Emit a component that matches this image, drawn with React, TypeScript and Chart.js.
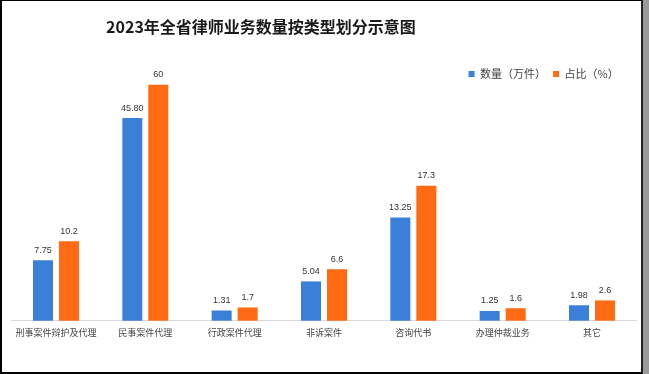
import React, { useEffect, useRef } from 'react';
import { Chart, registerables, LinearScale } from 'chart.js';

Chart.register(...registerables);

const titleText = '2023年全省律师业务数量按类型划分示意图';
const categories = ['刑事案件辩护及代理', '民事案件代理', '行政案件代理', '非诉案件', '咨询代书', '办理仲裁业务', '其它'];
const seriesNames = ['数量（万件）', '占比（%）'];
const quantity = [7.75, 45.8, 1.31, 5.04, 13.25, 1.25, 1.98];
const share = [10.2, 60, 1.7, 6.6, 17.3, 1.6, 2.6];

// the original chart uses a broken (compressed) value axis above ~17.5
const BREAK_AT = 17.5;
const COMPRESS = 0.3;
const Y_MAX = 58;

class BrokenLinearScale extends LinearScale {
  static id = 'brokenLinear';
  static defaults = LinearScale.defaults;
  tf(v: number) {
    return v <= BREAK_AT ? v : BREAK_AT + (v - BREAK_AT) * COMPRESS;
  }
  itf(t: number) {
    return t <= BREAK_AT ? t : BREAK_AT + (t - BREAK_AT) / COMPRESS;
  }
  getPixelForValue(value: any) {
    if (value === null || value === undefined || isNaN(value)) return NaN;
    const a = this.tf(this.min);
    const b = this.tf(this.max);
    return this.getPixelForDecimal((this.tf(value) - a) / (b - a));
  }
  getValueForPixel(pixel: number) {
    const a = this.tf(this.min);
    const b = this.tf(this.max);
    return this.itf(a + this.getDecimalForPixel(pixel) * (b - a));
  }
}
Chart.register(BrokenLinearScale as any);

const valueLabels = {
  id: 'valueLabels',
  afterDatasetsDraw(chart: any) {
    const ctx = chart.ctx;
    ctx.save();
    ctx.font = "9px 'Liberation Sans', sans-serif";
    ctx.fillStyle = '#333333';
    ctx.textAlign = 'center';
    ctx.textBaseline = 'middle';
    chart.data.datasets.forEach((ds: any, i: number) => {
      const meta = chart.getDatasetMeta(i);
      meta.data.forEach((bar: any, j: number) => {
        const v = ds.data[j] as number;
        const txt = i === 0 ? v.toFixed(2) : String(v);
        ctx.fillText(txt, bar.x, bar.y - 10);
      });
    });
    ctx.restore();
  },
};

export default function App() {
  const canvasRef = useRef<HTMLCanvasElement | null>(null);

  useEffect(() => {
    if (!canvasRef.current) return;
    Chart.defaults.font.family = "'Noto Sans CJK SC', 'Noto Sans', sans-serif";
    const chart = new Chart(canvasRef.current, {
      type: 'bar',
      data: {
        labels: categories,
        datasets: [
          {
            label: seriesNames[0],
            data: quantity,
            backgroundColor: '#3b80d8',
            categoryPercentage: 0.582,
            barPercentage: 0.77,
            clip: false as any,
          },
          {
            label: seriesNames[1],
            data: share,
            backgroundColor: '#ff6a12',
            categoryPercentage: 0.582,
            barPercentage: 0.77,
            clip: false as any,
          },
        ],
      },
      options: {
        animation: false,
        responsive: true,
        maintainAspectRatio: false,
        layout: { padding: { left: 9.3, right: 4.3, top: 60.5, bottom: 28.5 } },
        plugins: {
          legend: {
            position: 'top',
            align: 'end',
            labels: {
              boxWidth: 6,
              boxHeight: 6,
              padding: 7,
              color: '#444444',
              font: { size: 11 },
              generateLabels(chart: any) {
                const items = Chart.defaults.plugins.legend.labels.generateLabels(chart);
                if (items.length) items[items.length - 1].text += '\u3000\u2002';
                return items;
              },
            },
          },
          title: { display: false },
          tooltip: { enabled: false },
        },
        scales: {
          x: {
            grid: { display: false, drawTicks: false },
            border: { display: true, color: '#d9d9d9' },
            ticks: {
              padding: 6,
              color: '#444444',
              font: { size: 9 },
              maxRotation: 0,
              autoSkip: false,
            },
          },
          y: {
            type: 'brokenLinear' as any,
            display: false,
            min: 0,
            max: Y_MAX,
          },
        },
      },
      plugins: [valueLabels],
    });
    return () => chart.destroy();
  }, []);

  return (
    <div style={{ position: 'fixed', left: 0, top: 0, width: 649, height: 374, background: '#ffffff', overflow: 'hidden' }}>
      <div
        style={{
          position: 'absolute',
          left: 0,
          top: 0,
          width: 643,
          height: 374,
          boxSizing: 'border-box',
          borderLeft: '2px solid #000',
          borderTop: '1px solid #000',
          borderBottom: '2px solid #000',
          borderRight: '2px solid #222',
          background: '#ffffff',
        }}
      >
        <div style={{ position: 'relative', width: 639, height: 371 }}>
          <canvas ref={canvasRef} />
          <div
            style={{
              position: 'absolute',
              left: 59,
              top: 14,
              width: 400,
              textAlign: 'center',
              fontFamily: "'Noto Sans CJK SC', sans-serif",
              fontWeight: 700,
              fontSize: 16,
              lineHeight: '22px',
              color: '#1a1a1a',
              whiteSpace: 'nowrap',
            }}
          >
            {titleText}
          </div>
        </div>
      </div>
      <div style={{ position: 'absolute', left: 643, top: 0, width: 6, height: 374, background: '#9a9a9a' }} />
    </div>
  );
}
